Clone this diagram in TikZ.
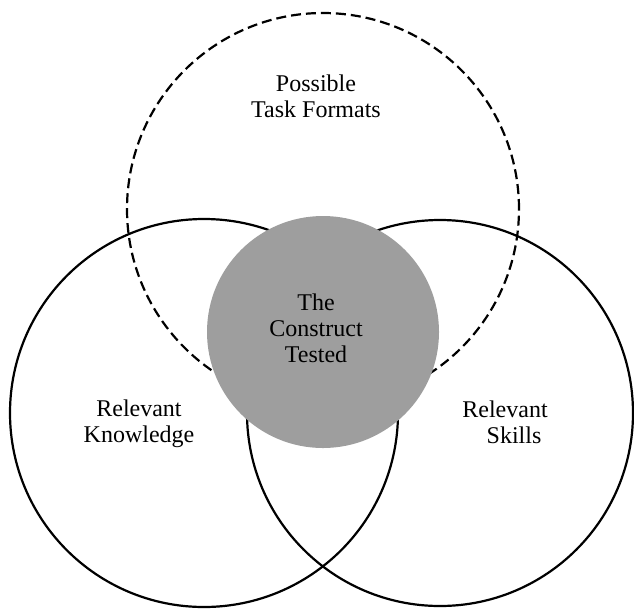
\documentclass[tikz,border=0pt]{standalone}
\usepackage{fontspec}
\setmainfont{Liberation Serif}
\usetikzlibrary{positioning}

\begin{document}
\begin{tikzpicture}[x=1pt, y=-1pt, line width=2.2pt,
        field/.style={circle, draw, inner sep=0pt, minimum size=#1},
        lbl/.style={align=center, inner sep=0pt, font=\fontsize{24}{26}\selectfont}]
        \useasboundingbox (0,0) rectangle (634,611);

        \node[field=392pt, dash pattern=on 10pt off 5pt] (tf) at (323,209) {};
        \node[field=388pt]                               (kn) at (204,413) {};
        \node[field=386pt]                               (sk) at (440,413) {};
        \node[circle, fill=black!38, inner sep=0pt, minimum size=232pt] (ct) at (323,332) {};

        \node[lbl] (tfl) at (316,96)  {Possible\\Task Formats};
        \node[lbl] (ctl) at (316,328) {The\\Construct\\Tested};
        \node[lbl] (knl) at (139,424) {Relevant\\Knowledge};
        \node[lbl] (skl) at (505,422) {Relevant\\\hspace*{18pt}Skills};
    \end{tikzpicture}
\end{document}
